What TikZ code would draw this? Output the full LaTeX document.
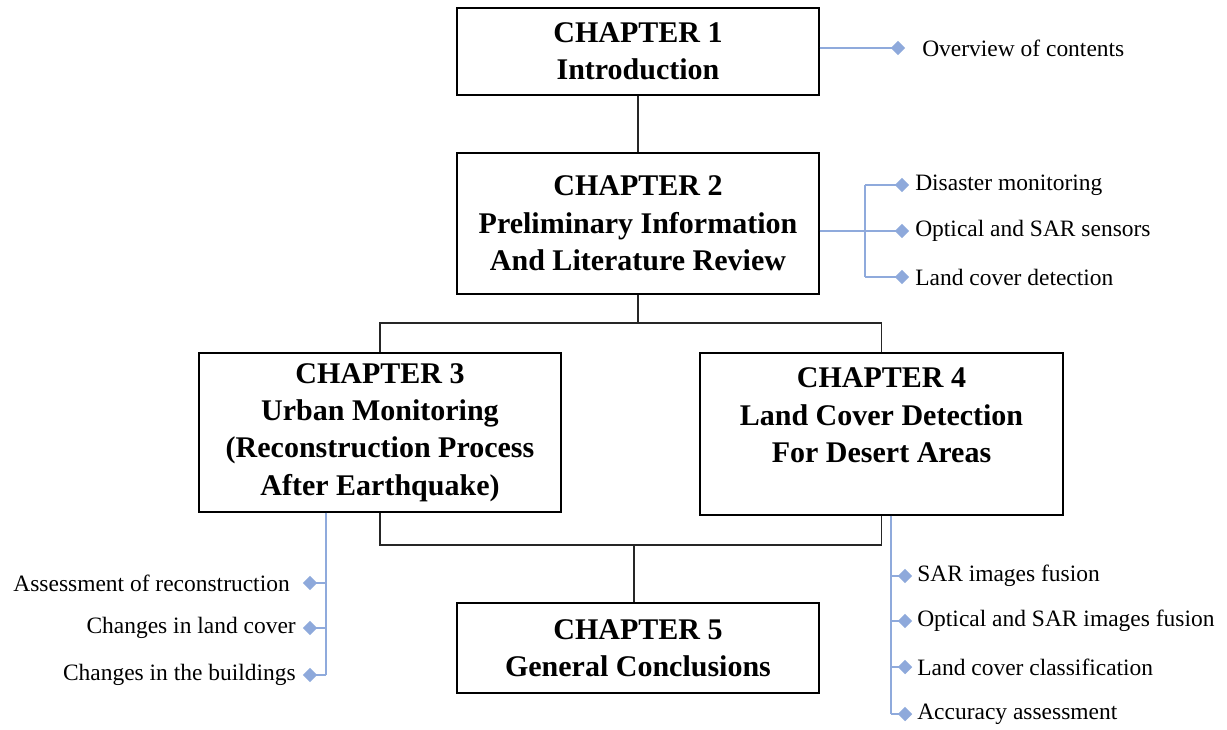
\documentclass[tikz,border=0pt]{standalone}
\usepackage{fontspec}
\setmainfont{Liberation Serif}
\usetikzlibrary{shapes, arrows.meta, positioning, calc}
\definecolor{cBlueLine}{RGB}{143, 170, 220}
\definecolor{cBlueTip}{RGB}{142, 169, 219}
\tikzset{
    chapterBox/.style={
        rectangle, draw=black, line width=1.1pt, fill=white,
        align=center, inner sep=0pt,
        font=\bfseries\fontsize{22.5}{28}\selectfont
    },
    itemText/.style={
        inner sep=0pt,
        font=\fontsize{17.6}{20}\selectfont
    },
    blueLine/.style={draw=cBlueLine, line width=1.5pt},
    blackLine/.style={draw=black!85, line width=1.1pt},
    tipMark/.style={
        diamond, fill=cBlueTip, inner sep=0pt, minimum size=11pt
    }
}

\begin{document}
\begin{tikzpicture}[x=0.75pt, y=-0.75pt]
    \useasboundingbox (0,0) rectangle (1227,729);

    % chapters
    \node [chapterBox, minimum width=271.5pt, minimum height=65.25pt] (ch1) at (638,51.5)
        {CHAPTER 1\\Introduction};
    \node [chapterBox, minimum width=271.5pt, minimum height=105.75pt] (ch2) at (638,223.5)
        {CHAPTER 2\\Preliminary Information\\And Literature Review};
    \node [chapterBox, minimum width=271.5pt, minimum height=119.25pt] (ch3) at (380,432.5)
        {CHAPTER 3\\Urban Monitoring\\(Reconstruction Process\\After Earthquake)};
    \node [chapterBox, minimum width=272pt, minimum height=121.5pt] (ch4) at (881.5,434)
        {CHAPTER 4\\Land Cover Detection\\For Desert Areas\\\mbox{}};
    \node [chapterBox, minimum width=271.5pt, minimum height=67.5pt] (ch5) at (638,648)
        {CHAPTER 5\\General Conclusions};

    % black connectors
    \coordinate (split) at (638,323);
    \coordinate (join) at (634,545);
    \draw [blackLine] (ch1.south) -- (ch2.north);
    \draw [blackLine] (ch2.south) -- (split);
    \draw [blackLine] (ch3.north) |- (split) -| (ch4.north);
    \draw [blackLine] (ch3.south) |- (join) -| (ch4.south);
    \draw [blackLine] (join) -- (ch5.north -| join);

    % chapter 1 items
    \coordinate (hub1) at (898,48);
    \draw [blueLine] (ch1.east |- hub1) -- (hub1);
    \node [tipMark] (d11) at (hub1) {};
    \node [itemText, anchor=west] at (922,48) {Overview of contents};

    % chapter 2 items
    \coordinate (hub2) at (865,231);
    \draw [blueLine] (ch2.east |- hub2) -- (hub2);
    \draw [blueLine] (865,185) -- (865,277);
    \foreach \yy/\name/\txt in {185/d21/Disaster monitoring,
                                231/d22/Optical and SAR sensors,
                                277/d23/Land cover detection} {
        \draw [blueLine] (865,\yy) -- (902,\yy);
        \node [tipMark] (\name) at (902,\yy) {};
        \node [itemText, anchor=west] at (915,\yy) {\txt};
    }

    % chapter 3 items
    \coordinate (hub3) at (326,675);
    \draw [blueLine] (ch3.south -| hub3) -- (hub3);
    \foreach \yy/\name/\xx/\txt in {583/d31/290/Assessment of reconstruction,
                                    628/d32/296/Changes in land cover,
                                    675/d33/296/Changes in the buildings} {
        \draw [blueLine] (326,\yy) -- (310,\yy);
        \node [tipMark] (\name) at (310,\yy) {};
        \node [itemText, anchor=east] at (\xx,\yy) {\txt};
    }

    % chapter 4 items
    \coordinate (hub4) at (891,714);
    \draw [blueLine] (ch4.south -| hub4) -- (hub4);
    \foreach \yy/\name/\txt in {576/d41/SAR images fusion,
                                621/d42/Optical and SAR images fusion,
                                667/d43/Land cover classification,
                                714/d44/Accuracy assessment} {
        \draw [blueLine] (891,\yy) -- (905,\yy);
        \node [tipMark] (\name) at (905,\yy) {};
        \node [itemText, anchor=west] at (917,\yy) {\txt};
    }
\end{tikzpicture}
\end{document}
